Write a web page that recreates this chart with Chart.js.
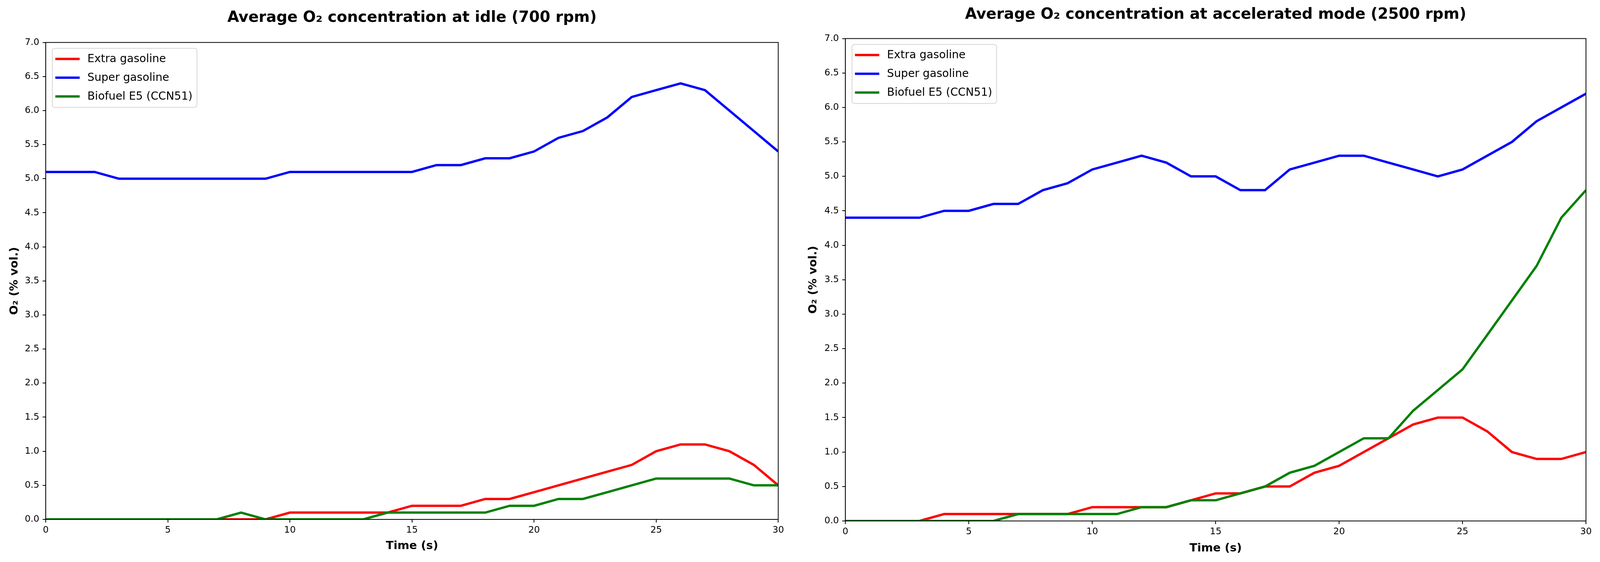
<!DOCTYPE html>
<html>
<head>
<meta charset="utf-8">
<script src="https://cdn.jsdelivr.net/npm/chart.js@4/dist/chart.umd.min.js"></script>
<style>
  html, body { margin: 0; padding: 0; background: #fff; overflow: hidden; }
  canvas { position: absolute; top: 0; }
</style>
</head>
<body>
<canvas id="chartIdle"></canvas>
<canvas id="chartAccel"></canvas>
<script>
// dados (tempo em s, O2 em % vol.)
const timeS = [0, 1, 2, 3, 4, 5, 6, 7, 8, 9, 10, 11, 12, 13, 14, 15, 16, 17, 18, 19, 20, 21, 22, 23, 24, 25, 26, 27, 28, 29, 30];

const seriesNames = ['Extra gasoline', 'Super gasoline', 'Biofuel E5 (CCN51)'];
const seriesColors = ['#ff0000', '#0000ff', '#008000'];

// marcha lenta (700 rpm)
const idleExtra = [0, 0, 0, 0, 0, 0, 0, 0, 0, 0, 0.1, 0.1, 0.1, 0.1, 0.1, 0.2, 0.2, 0.2, 0.3, 0.3, 0.4, 0.5, 0.6, 0.7, 0.8, 1.0, 1.1, 1.1, 1.0, 0.8, 0.5];
const idleSuper = [5.1, 5.1, 5.1, 5.0, 5.0, 5.0, 5.0, 5.0, 5.0, 5.0, 5.1, 5.1, 5.1, 5.1, 5.1, 5.1, 5.2, 5.2, 5.3, 5.3, 5.4, 5.6, 5.7, 5.9, 6.2, 6.3, 6.4, 6.3, 6.0, 5.7, 5.4];
const idleBio = [0, 0, 0, 0, 0, 0, 0, 0, 0.1, 0, 0, 0, 0, 0, 0.1, 0.1, 0.1, 0.1, 0.1, 0.2, 0.2, 0.3, 0.3, 0.4, 0.5, 0.6, 0.6, 0.6, 0.6, 0.5, 0.5];

// modo acelerado (2500 rpm)
const accelExtra = [0, 0, 0, 0, 0.1, 0.1, 0.1, 0.1, 0.1, 0.1, 0.2, 0.2, 0.2, 0.2, 0.3, 0.4, 0.4, 0.5, 0.5, 0.7, 0.8, 1.0, 1.2, 1.4, 1.5, 1.5, 1.3, 1.0, 0.9, 0.9, 1.0];
const accelSuper = [4.4, 4.4, 4.4, 4.4, 4.5, 4.5, 4.6, 4.6, 4.8, 4.9, 5.1, 5.2, 5.3, 5.2, 5.0, 5.0, 4.8, 4.8, 5.1, 5.2, 5.3, 5.3, 5.2, 5.1, 5.0, 5.1, 5.3, 5.5, 5.8, 6.0, 6.2];
const accelBio = [0, 0, 0, 0, 0, 0, 0, 0.1, 0.1, 0.1, 0.1, 0.1, 0.2, 0.2, 0.3, 0.3, 0.4, 0.5, 0.7, 0.8, 1.0, 1.2, 1.2, 1.6, 1.9, 2.2, 2.7, 3.2, 3.7, 4.4, 4.8];

const xTitle = 'Time (s)';
const yTitle = 'O\u2082 (% vol.)';
const idleTitle = 'Average O\u2082 concentration at idle (700 rpm)';
const accelTitle = 'Average O\u2082 concentration at accelerated mode (2500 rpm)';

const FONT = "'DejaVu Sans', sans-serif";

// tudo medido numa figura de 4338x1438, escalado para a janela real
const W = window.innerWidth, H = window.innerHeight;
const sx = W / 4338, sy = H / 1438;
const fs = Math.sqrt(sx * sy);

// moldura dos eixos + legenda estilo matplotlib
const frameLegend = {
    id: 'frameLegend',
    afterDatasetsDraw(chart) {
        const ctx = chart.ctx;
        const a = chart.chartArea;
        ctx.save();
        ctx.strokeStyle = '#000';
        ctx.lineWidth = 2 * sy;
        ctx.strokeRect(a.left, a.top, a.right - a.left, a.bottom - a.top);

        const bx = a.left + 18 * sx, by = a.top + 15 * sy, bw = 392 * sx, bh = 151 * sy;
        ctx.beginPath();
        ctx.roundRect(bx, by, bw, bh, 6 * sy);
        ctx.fillStyle = 'rgba(255,255,255,0.85)';
        ctx.fill();
        ctx.strokeStyle = '#d6d6d6';
        ctx.lineWidth = 2 * sy;
        ctx.stroke();

        ctx.font = (29 * fs) + 'px ' + FONT;
        ctx.textBaseline = 'middle';
        chart.data.datasets.forEach(function (ds, i) {
            const y = a.top + (42 + i * 48) * sy;
            ctx.strokeStyle = ds.borderColor;
            ctx.lineWidth = 6 * sy;
            ctx.beginPath();
            ctx.moveTo(a.left + 26 * sx, y);
            ctx.lineTo(a.left + 92 * sx, y);
            ctx.stroke();
            ctx.fillStyle = '#000';
            ctx.fillText(ds.label, a.left + 113 * sx, y + sy);
        });
        ctx.restore();
    }
};

function makeChart(id, left, title, values, lay) {
    const cv = document.getElementById(id);
    cv.width = Math.round(W / 2);
    cv.height = H;
    cv.style.left = left + 'px';
    const datasets = values.map(function (v, i) {
        return {
            label: seriesNames[i],
            data: v,
            borderColor: seriesColors[i],
            backgroundColor: seriesColors[i],
            borderWidth: 6 * sy,
            pointRadius: 0,
            tension: 0,
            clip: 0,
            order: 2 - i
        };
    });
    const tickFont = { family: FONT, size: 24 * fs };
    const titleFont = { family: FONT, size: 30 * fs, weight: 'bold' };
    return new Chart(cv, {
        type: 'line',
        data: { labels: timeS, datasets: datasets },
        plugins: [frameLegend],
        options: {
            responsive: false,
            animation: false,
            layout: { padding: { left: 0, top: 0, bottom: 0, right: lay.padRight * sx } },
            plugins: {
                legend: { display: false },
                tooltip: { enabled: false },
                title: {
                    display: true,
                    text: title,
                    fullSize: false,
                    color: '#000',
                    font: { family: FONT, size: 40 * fs, weight: 'bold' },
                    padding: { top: lay.titleTop * sy, bottom: lay.titleBottom * sy }
                }
            },
            scales: {
                x: {
                    type: 'linear',
                    min: 0,
                    max: 30,
                    afterFit: function (s) { s.height = lay.xHeight * sy; },
                    border: { display: true, color: '#000', width: 2 * sy },
                    grid: { drawOnChartArea: false, drawTicks: true, tickLength: 8 * sy, color: '#000', lineWidth: 2 * sy },
                    ticks: { stepSize: 5, color: '#000', font: tickFont, padding: 6 * sy, maxRotation: 0 },
                    title: { display: true, text: xTitle, color: '#000', font: titleFont, padding: { top: 0, bottom: lay.xTitlePad * sy } }
                },
                y: {
                    min: 0,
                    max: 7,
                    afterFit: function (s) { s.width = lay.yWidth * sx; },
                    border: { display: true, color: '#000', width: 2 * sy },
                    grid: { drawOnChartArea: false, drawTicks: true, tickLength: 8 * sy, color: '#000', lineWidth: 2 * sy },
                    ticks: {
                        stepSize: 0.5, color: '#000', font: tickFont, padding: 9 * sx,
                        callback: function (v) { return v.toFixed(1); }
                    },
                    title: { display: true, text: yTitle, color: '#000', font: titleFont, padding: { top: lay.yTitlePad * sx, bottom: 0 } }
                }
            }
        }
    });
}

makeChart('chartIdle', 0, idleTitle, [idleExtra, idleSuper, idleBio],
    { padRight: 59, titleTop: 23, titleBottom: 39, xHeight: 109, yWidth: 124, xTitlePad: 23, yTitlePad: 21 });
makeChart('chartAccel', Math.round(W / 2), accelTitle, [accelExtra, accelSuper, accelBio],
    { padRight: 38, titleTop: 15, titleBottom: 37, xHeight: 105, yWidth: 123, xTitlePad: 17, yTitlePad: 18 });
</script>
</body>
</html>
